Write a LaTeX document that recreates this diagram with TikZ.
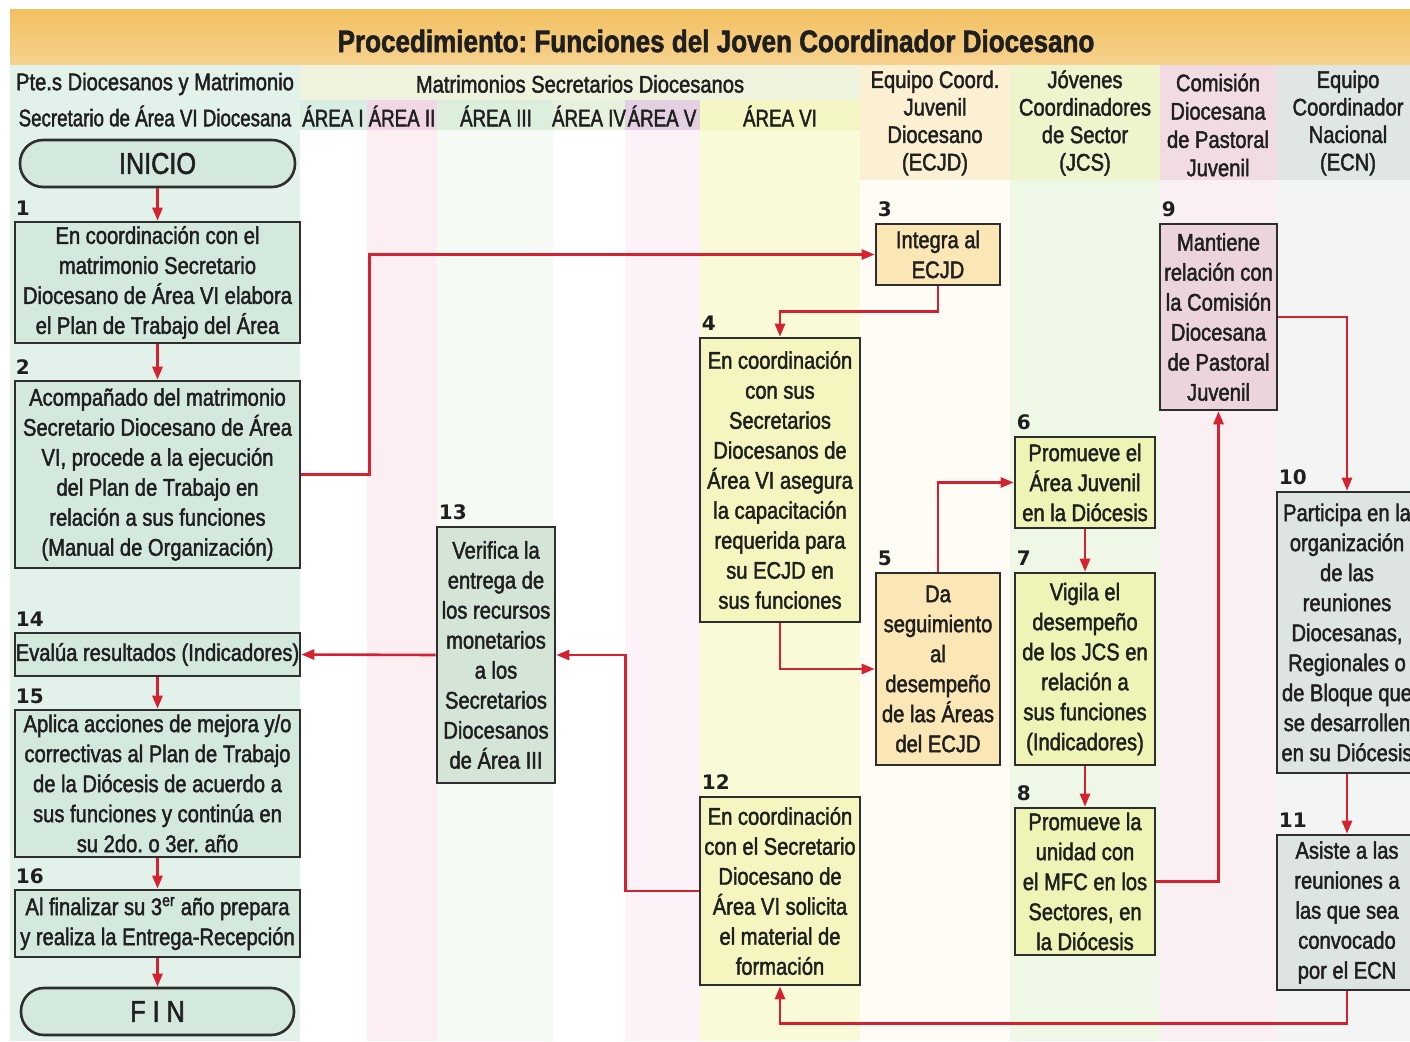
\documentclass[tikz,border=0pt]{standalone}
\usepackage{fontspec}
\setmainfont{Liberation Sans}[FakeStretch=0.84, FakeBold=1.8]
\newfontfamily\hdrfont{Liberation Sans}[FakeStretch=0.78, FakeBold=1.8]
\newfontfamily\numfont{DejaVu Sans}
\usetikzlibrary{arrows.meta}
\definecolor{txt}{HTML}{1F1F1F}
\definecolor{boxline}{HTML}{2E2E2E}
\definecolor{redl}{HTML}{D52230}
\definecolor{cOne}{HTML}{E2F2EA}
\definecolor{cOneBox}{HTML}{D3E9DD}
\definecolor{cBoxXIII}{HTML}{D4E5D8}
\definecolor{hdrA}{HTML}{EFF3DD}
\definecolor{hAI}{HTML}{D9EEE3}
\definecolor{hAII}{HTML}{F1D6E6}
\definecolor{hAIII}{HTML}{DCEFDD}
\definecolor{hAIV}{HTML}{E8F0DE}
\definecolor{hAV}{HTML}{E3D0E3}
\definecolor{hAVI}{HTML}{F4F6C4}
\definecolor{bAII}{HTML}{FDEEF4}
\definecolor{bAIII}{HTML}{F6FAF4}
\definecolor{bAV}{HTML}{FCF2F7}
\definecolor{bAVI}{HTML}{F8FAD8}
\definecolor{hECJD}{HTML}{FCF0D2}
\definecolor{hJCS}{HTML}{EEF5CC}
\definecolor{hCOM}{HTML}{F2DCE4}
\definecolor{hECN}{HTML}{E0E6E4}
\definecolor{bECJD}{HTML}{FEFCF4}
\definecolor{bJCS}{HTML}{EFF8E7}
\definecolor{bCOM}{HTML}{FAEFF3}
\definecolor{bECN}{HTML}{F2F5F4}
\definecolor{yBox}{HTML}{F5F5C0}
\definecolor{pBox}{HTML}{FBE6B5}
\definecolor{gBox}{HTML}{EEF3B6}
\definecolor{rBox}{HTML}{ECD4DD}
\definecolor{sBox}{HTML}{DDE4E2}
\definecolor{bandTop}{HTML}{F2C062}
\definecolor{bandBot}{HTML}{F6D28E}
\tikzset{
  box/.style={draw=boxline, line width=2.6pt, inner sep=0pt, align=center,
    font=\fontsize{24}{30}\selectfont, text=txt},
  term/.style={box, rounded corners=23pt, font=\fontsize{30}{30}\selectfont},
  numlbl/.style={anchor=south west, inner sep=0pt,
    font=\numfont\bfseries\fontsize{20}{20}\selectfont, text=txt},
  flow/.style={draw=redl, line width=2.6pt, -{Triangle[length=13pt,width=10pt]}},
  hdr/.style={align=center, inner sep=0pt, font=\fontsize{24}{27.5}\selectfont, text=txt},
  hdrtwo/.style={inner sep=0pt, font=\hdrfont\fontsize{24}{27}\selectfont, text=txt},
}
\begin{document}
\frenchspacing
\begin{tikzpicture}[x=1pt,y=-1pt]
\useasboundingbox (0,0) rectangle (1410,1041);
\clip (0,0) rectangle (1410,1041);
\fill[white] (0,0) rectangle (1410,1041);
% title band
\shade[top color=bandTop, bottom color=bandBot] (10,10) rectangle (1410,65);
% column bands
\fill[cOne] (10,65) rectangle (300,1041);
\fill[hdrA] (300,65) rectangle (860,100);
\fill[hAI] (300,100) rectangle (367,130);
\fill[hAII] (367,100) rectangle (437,130);
\fill[hAIII] (437,100) rectangle (553,130);
\fill[hAIV] (553,100) rectangle (625,130);
\fill[hAV] (625,100) rectangle (700,130);
\fill[hAVI] (700,100) rectangle (860,130);
\fill[bAII] (367,130) rectangle (437,1041);
\fill[bAIII] (437,130) rectangle (553,1041);
\fill[bAV] (625,130) rectangle (700,1041);
\fill[bAVI] (700,130) rectangle (860,1041);
\fill[hECJD] (860,65) rectangle (1010,180);
\fill[hJCS] (1010,65) rectangle (1160,180);
\fill[hCOM] (1160,65) rectangle (1277,180);
\fill[hECN] (1277,65) rectangle (1410,180);
\fill[bECJD] (860,180) rectangle (1010,1041);
\fill[bJCS] (1010,180) rectangle (1160,1041);
\fill[bCOM] (1160,180) rectangle (1277,1041);
\fill[bECN] (1277,180) rectangle (1410,1041);
% title and headers
\node[text=txt, inner sep=0pt, font=\bfseries\fontsize{31}{31}\selectfont] (title) at (716,41)
  {Procedimiento: Funciones del Joven Coordinador Diocesano};
\node[hdr] (hPa) at (155,84) {Pte.s Diocesanos y Matrimonio};
\node[hdrtwo] (hPb) at (155,116) {Secretario de Área VI Diocesana};
\node[hdr] (hMat) at (580,84) {Matrimonios Secretarios Diocesanos};
\node[hdrtwo] (hAreaI) at (333,116) {ÁREA I};
\node[hdrtwo] (hAreaII) at (402,116) {ÁREA II};
\node[hdrtwo] (hAreaIII) at (496,116) {ÁREA III};
\node[hdrtwo] (hAreaIV) at (589,116) {ÁREA IV};
\node[hdrtwo] (hAreaV) at (662,116) {ÁREA V};
\node[hdrtwo] (hAreaVI) at (780,116) {ÁREA VI};
\node[hdr] (hECJDt) at (935,123) {Equipo Coord.\\Juvenil\\Diocesano\\(ECJD)};
\node[hdr] (hJCSt) at (1085,123) {Jóvenes\\Coordinadores\\de Sector\\(JCS)};
\node[hdr, font=\fontsize{24}{28.3}\selectfont] (hCOMt) at (1218,125) {Comisión\\Diocesana\\de Pastoral\\Juvenil};
\node[hdr] (hECNt) at (1348,123) {Equipo\\Coordinador\\Nacional\\(ECN)};
% nodes
\node[term, fill=cOneBox, minimum width=275, minimum height=47] (ini) at (157.5,163.5) {INICIO};
\node[box, fill=cOneBox, minimum width=285, minimum height=121] (b1) at (157.5,282.5)
  {En coordinación con el\\matrimonio Secretario\\Diocesano de Área VI elabora\\el Plan de Trabajo del Área};
\node[box, fill=cOneBox, minimum width=285, minimum height=187] (b2) at (157.5,474.5)
  {Acompañado del matrimonio\\Secretario Diocesano de Área\\VI, procede a la ejecución\\del Plan de Trabajo en\\relación a sus funciones\\(Manual de Organización)};
\node[box, fill=pBox, minimum width=124, minimum height=61] (b3) at (938,254.5)
  {Integra al\\ECJD};
\node[box, fill=yBox, minimum width=160, minimum height=284] (b4) at (780,480)
  {En coordinación\\con sus\\Secretarios\\Diocesanos de\\Área VI asegura\\la capacitación\\requerida para\\su ECJD en\\sus funciones};
\node[box, fill=pBox, minimum width=124, minimum height=192] (b5) at (938,669)
  {Da\\seguimiento\\al\\desempeño\\de las Áreas\\del ECJD};
\node[box, fill=gBox, minimum width=140, minimum height=91] (b6) at (1085,482.5)
  {Promueve el\\Área Juvenil\\en la Diócesis};
\node[box, fill=gBox, minimum width=140, minimum height=192] (b7) at (1085,669)
  {Vigila el\\desempeño\\de los JCS en\\relación a\\sus funciones\\(Indicadores)};
\node[box, fill=gBox, minimum width=140, minimum height=147] (b8) at (1085,881.5)
  {Promueve la\\unidad con\\el MFC en los\\Sectores, en\\la Diócesis};
\node[box, fill=rBox, minimum width=117, minimum height=186] (b9) at (1218.5,317)
  {Mantiene\\relación con\\la Comisión\\Diocesana\\de Pastoral\\Juvenil};
\node[box, fill=sBox, minimum width=140, minimum height=281] (b10) at (1347,632.5)
  {Participa en la\\organización\\de las\\reuniones\\Diocesanas,\\Regionales o\\de Bloque que\\se desarrollen\\en su Diócesis};
\node[box, fill=sBox, minimum width=140, minimum height=155] (b11) at (1347,912.5)
  {Asiste a las\\reuniones a\\las que sea\\convocado\\por el ECN};
\node[box, fill=yBox, minimum width=160, minimum height=188] (b12) at (780,891)
  {En coordinación\\con el Secretario\\Diocesano de\\Área VI solicita\\el material de\\formación};
\node[box, fill=cBoxXIII, minimum width=118, minimum height=256] (b13) at (496,655)
  {Verifica la\\entrega de\\los recursos\\monetarios\\a los\\Secretarios\\Diocesanos\\de Área III};
\node[box, fill=cOneBox, minimum width=285, minimum height=43] (b14) at (157.5,654.5)
  {Evalúa resultados (Indicadores)};
\node[box, fill=cOneBox, minimum width=285, minimum height=147] (b15) at (157.5,783.5)
  {Aplica acciones de mejora y/o\\correctivas al Plan de Trabajo\\de la Diócesis de acuerdo a\\sus funciones y continúa en\\su 2do. o 3er. año};
\node[box, fill=cOneBox, minimum width=285, minimum height=67] (b16) at (157.5,923.5)
  {Al finalizar su 3\textsuperscript{er} año prepara\\y realiza la Entrega-Recepción};
\node[term, fill=cOneBox, minimum width=273, minimum height=47] (fin) at (157.5,1011.5) {F I N};
% number labels
\node[numlbl] (n1) at ([shift={(2,-5)}]b1.north west) {1};
\node[numlbl] (n2) at ([shift={(2,-5)}]b2.north west) {2};
\node[numlbl] (n3) at ([shift={(3,-6)}]b3.north west) {3};
\node[numlbl] (n4) at ([shift={(3,-6)}]b4.north west) {4};
\node[numlbl] (n5) at ([shift={(3,-6)}]b5.north west) {5};
\node[numlbl] (n6) at ([shift={(3,-6)}]b6.north west) {6};
\node[numlbl] (n7) at ([shift={(3,-6)}]b7.north west) {7};
\node[numlbl] (n8) at ([shift={(3,-6)}]b8.north west) {8};
\node[numlbl] (n9) at ([shift={(3,-6)}]b9.north west) {9};
\node[numlbl] (n10) at ([shift={(3,-6)}]b10.north west) {10};
\node[numlbl] (n11) at ([shift={(3,-6)}]b11.north west) {11};
\node[numlbl] (n12) at ([shift={(3,-6)}]b12.north west) {12};
\node[numlbl] (n13) at ([shift={(3,-6)}]b13.north west) {13};
\node[numlbl] (n14) at ([shift={(2,-5)}]b14.north west) {14};
\node[numlbl] (n15) at ([shift={(2,-5)}]b15.north west) {15};
\node[numlbl] (n16) at ([shift={(2,-5)}]b16.north west) {16};
% connectors
\draw[flow] (ini.south) -- (b1.north);
\draw[flow] (b1.south) -- (b2.north);
\draw[flow] (b2.east) -- ++(68,0) |- (b3.west);
\draw[flow] (b3.south) -- ++(0,25) -| (b4.north);
\draw[flow] (b4.south) |- (b5.west);
\draw[flow] (b5.north) |- (b6.west);
\draw[flow] (b6.south) -- (b7.north);
\draw[flow] (b7.south) -- (b8.north);
\draw[flow] (b8.east) -| (b9.south);
\draw[flow] (b9.east) -| (b10.north);
\draw[flow] (b10.south) -- (b11.north);
\draw[flow] (b11.south) -- ++(0,32) -| (b12.south);
\draw[flow] (b12.west) -- ++(-73,0) |- (b13.east);
\draw[flow] (b13.west) -- (b14.east);
\draw[flow] (b14.south) -- (b15.north);
\draw[flow] (b15.south) -- (b16.north);
\draw[flow] (b16.south) -- (fin.north);
\end{tikzpicture}
\end{document}
